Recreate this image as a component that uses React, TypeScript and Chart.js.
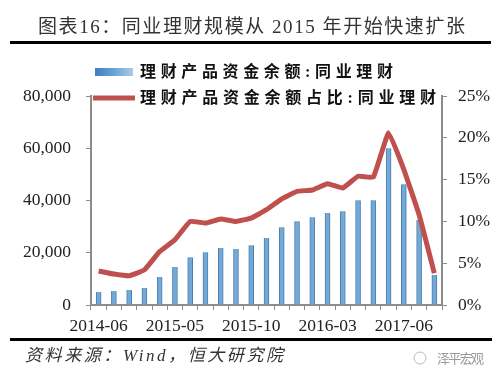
import React, { useEffect, useRef } from 'react';
import { Chart, registerables } from 'chart.js';

Chart.register(...registerables);

const categories = [
  '2014-06', '2014-09', '2014-12', '2015-03', '2015-04', '2015-05', '2015-06', '2015-07',
  '2015-08', '2015-09', '2015-10', '2015-11', '2015-12', '2016-01', '2016-02', '2016-03',
  '2016-06', '2016-09', '2016-12', '2017-03', '2017-06', '2017-09', '2017-12',
];
const balances = [
  5000, 5350, 5700, 6500, 10700, 14500, 18300, 20200, 21800, 21400, 22900, 25600,
  29800, 32100, 33600, 35200, 35900, 40100, 40100, 60000, 46200, 32500, 11500,
];
const shares = [
  4.07, 3.7, 3.5, 4.2, 6.4, 7.8, 10.0, 9.8, 10.3, 10.0, 10.4, 11.4,
  12.7, 13.6, 13.75, 14.5, 14.0, 15.4, 15.3, 20.6, 16.2, 10.8, 3.8,
];
const leftTicks = [0, 20000, 40000, 60000, 80000];
const rightTicks = [0, 5, 10, 15, 20, 25];

const titleText = '图表16：同业理财规模从 2015 年开始快速扩张';
const barName = '理财产品资金余额:同业理财';
const lineName = '理财产品资金余额占比:同业理财';
const sourceText = '资料来源：Wind，恒大研究院';
const watermarkText = '泽平宏观';

const SERIF = '"Liberation Serif", "Noto Sans CJK SC", serif';

function fitText(ctx: CanvasRenderingContext2D, text: string, x: number, y: number, width: number) {
  const w = ctx.measureText(text).width;
  const n = Array.from(text).length;
  const sp = n > 1 ? (width - w) / (n - 1) : 0;
  (ctx as any).letterSpacing = sp + 'px';
  ctx.fillText(text, x, y);
  (ctx as any).letterSpacing = '0px';
}

const decorPlugin = {
  id: 'decor',
  afterDraw(chart: any) {
    const ctx: CanvasRenderingContext2D = chart.ctx;
    ctx.save();
    // title
    ctx.fillStyle = '#333';
    ctx.textBaseline = 'middle';
    ctx.textAlign = 'left';
    ctx.font = `19px ${SERIF}`;
    fitText(ctx, titleText, 38, 28, 427);
    ctx.fillStyle = '#000';
    ctx.fillRect(10, 41, 481, 3);
    // legend
    const ds0 = chart.data.datasets[0];
    const ds1 = chart.data.datasets[1];
    const g = ctx.createLinearGradient(95, 0, 133, 0);
    g.addColorStop(0, '#3d7fc1');
    g.addColorStop(0.5, '#6aa3d6');
    g.addColorStop(1, '#a9cbe8');
    ctx.fillStyle = g;
    ctx.fillRect(95, 68, 38, 8);
    ctx.fillStyle = '#111';
    ctx.font = `bold 16px ${SERIF}`;
    fitText(ctx, ds0.label, 140, 73, 253);
    ctx.strokeStyle = ds1.borderColor;
    ctx.lineWidth = 5;
    ctx.beginPath();
    ctx.moveTo(93, 98);
    ctx.lineTo(135, 98);
    ctx.stroke();
    fitText(ctx, ds1.label, 140, 99, 296);
    // bottom rule and source
    ctx.fillStyle = '#000';
    ctx.fillRect(10, 338, 482, 3);
    ctx.fillStyle = '#333';
    ctx.font = `italic 17px ${SERIF}`;
    fitText(ctx, sourceText, 25, 357, 258);
    // watermark
    ctx.strokeStyle = '#bbb';
    ctx.lineWidth = 1;
    ctx.beginPath();
    ctx.arc(420, 358, 6, 0, Math.PI * 2);
    ctx.stroke();
    ctx.fillStyle = '#999';
    ctx.font = `13px "Noto Sans CJK SC", sans-serif`;
    fitText(ctx, watermarkText, 437, 358, 47);
    ctx.restore();
  },
};

export default function App() {
  const ref = useRef<HTMLCanvasElement | null>(null);
  useEffect(() => {
    document.body.style.margin = '0';
    const canvas = ref.current!;
    const axisColor = '#8c8c8c';
    const chart = new Chart(canvas, {
      data: {
        labels: categories,
        datasets: [
          {
            type: 'bar',
            label: barName,
            data: balances,
            yAxisID: 'y',
            backgroundColor: '#74a9d5',
            borderColor: '#4a7fb2',
            borderWidth: { left: 1, right: 1, top: 0, bottom: 0 },
            barThickness: 5,
            order: 2,
          } as any,
          {
            type: 'line',
            label: lineName,
            data: shares,
            yAxisID: 'y1',
            borderColor: '#c0504d',
            borderWidth: 5,
            pointRadius: 0,
            tension: 0.1,
            borderJoinStyle: 'round',
            order: 1,
          } as any,
        ],
      },
      options: {
        responsive: false,
        animation: false,
        layout: { padding: { top: 96, bottom: 45, left: 0, right: 0 } },
        plugins: { legend: { display: false }, tooltip: { enabled: false }, title: { display: false } },
        scales: {
          x: {
            offset: true,
            grid: { display: true, drawOnChartArea: false, drawTicks: true, tickLength: 5, color: axisColor, offset: true },
            border: { display: true, color: axisColor, width: 2 },
            ticks: {
              autoSkip: false,
              maxRotation: 0,
              padding: 6,
              color: '#222',
              font: { family: SERIF, size: 17.5 },
              callback: (_v: any, i: number) => (i % 5 === 0 ? categories[i] : ''),
            },
            afterFit: (s: any) => { s.height = 30; },
          },
          y: {
            position: 'left',
            min: leftTicks[0],
            max: leftTicks[leftTicks.length - 1],
            afterBuildTicks: (s: any) => { s.ticks = leftTicks.map((v) => ({ value: v })); },
            grid: { display: true, drawOnChartArea: false, drawTicks: true, tickLength: 5, color: axisColor },
            border: { display: true, color: axisColor, width: 2 },
            ticks: {
              padding: 15,
              color: '#222',
              font: { family: SERIF, size: 17.5 },
              callback: (v: any) => Number(v).toLocaleString('en-US'),
            },
            afterFit: (s: any) => { s.width = 91; },
          },
          y1: {
            position: 'right',
            min: rightTicks[0],
            max: rightTicks[rightTicks.length - 1],
            afterBuildTicks: (s: any) => { s.ticks = rightTicks.map((v) => ({ value: v })); },
            grid: { display: true, drawOnChartArea: false, drawTicks: true, tickLength: 5, color: axisColor },
            border: { display: true, color: axisColor, width: 2 },
            ticks: {
              padding: 11,
              color: '#222',
              font: { family: SERIF, size: 17.5 },
              callback: (v: any) => v + '%',
            },
            afterFit: (s: any) => { s.width = 59; },
          },
        },
      } as any,
      plugins: [decorPlugin],
    });
    return () => chart.destroy();
  }, []);
  return (
    <div style={{ position: 'fixed', left: 0, top: 0, width: 501, height: 380, background: '#fff' }}>
      <canvas ref={ref} width={501} height={380} style={{ display: 'block' }} />
    </div>
  );
}
